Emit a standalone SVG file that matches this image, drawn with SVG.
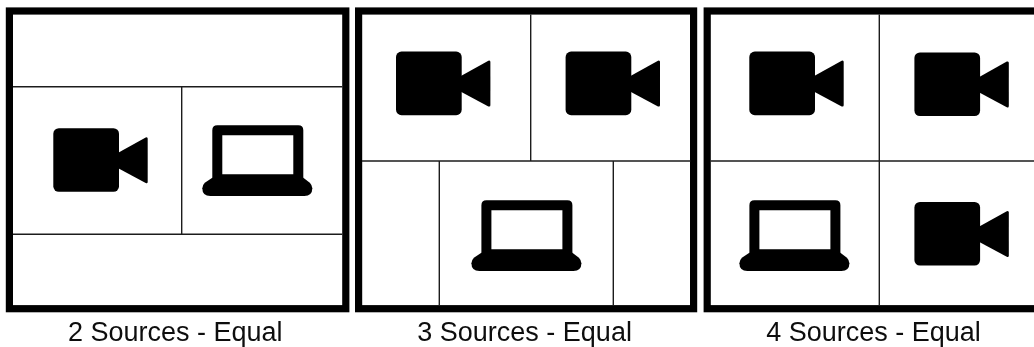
<svg xmlns="http://www.w3.org/2000/svg" width="1034" height="347" viewBox="0 0 1034 347">
<style>
.frame{fill:#fff;stroke:#000;stroke-width:7.2}
.div{stroke:#1c1c1c;stroke-width:1.4;fill:none}
.lbl{font-family:"Liberation Sans",Arial,Helvetica,sans-serif;font-size:27px;fill:#111;text-anchor:middle;filter:url(#softer)}
.soft{filter:url(#soft)}
</style>
<defs>
<filter id="soft" x="-10%" y="-10%" width="120%" height="120%"><feGaussianBlur stdDeviation="0.55"/></filter>
<filter id="softer" x="-5%" y="-10%" width="110%" height="120%"><feGaussianBlur stdDeviation="0.35"/></filter>
<g id="cam">
<rect x="0" y="0" width="65.7" height="63.6" rx="5.5" fill="#000"/>
<path d="M64 25 L92.4 9.2 Q94.4 8.4 94.4 10.5 L94.4 53.5 Q94.4 55.6 92.4 54.8 L64 39.6 Z" fill="#000"/>
</g>
<g id="lap">
<path fill-rule="evenodd" fill="#000" d="M15 0 H96 Q101 0 101 5 V53 H10 V5 Q10 0 15 0 Z M20 10 V49 H91 V10 Z"/>
<path fill="#000" d="M10 52.4 H101 L107.5 57.5 Q110 60 110 63 Q110 70.7 102 70.7 H8 Q0 70.7 0 63 Q0 60 2.5 57.5 Z"/>
</g>
</defs>
<rect width="1034" height="347" fill="#fff"/>

<g id="panel-2-sources">
<rect class="frame" x="9.4" y="11" width="336.4" height="297.7"/>
<g class="div"><path d="M13 86.7H342.3M13 234.3H342.3M181.7 86.7V234.3"/></g>
<g id="p2-camera" class="soft"><use href="#cam" x="53.3" y="128.2"/></g>
<g id="p2-laptop" class="soft"><use href="#lap" x="202.3" y="125.3"/></g>
<text class="lbl" x="175.2" y="341">2 Sources - Equal</text>
</g>

<g id="panel-3-sources">
<rect class="frame" x="358.6" y="11" width="335" height="297.7"/>
<g class="div"><path d="M362 161H690.5M530.7 14.6V161M439.3 161V305M613.3 161V305"/></g>
<g id="p3-camera-a" class="soft"><use href="#cam" x="396" y="51.6"/></g>
<g id="p3-camera-b" class="soft"><use href="#cam" x="565.6" y="51.6"/></g>
<g id="p3-laptop" class="soft"><use href="#lap" x="471.4" y="200.3"/></g>
<text class="lbl" x="524.6" y="341">3 Sources - Equal</text>
</g>

<g id="panel-4-sources">
<rect class="frame" x="707.2" y="11" width="340" height="297.7"/>
<g class="div"><path d="M710.7 161H1034M879.3 14.6V305"/></g>
<g id="p4-camera-a" class="soft"><use href="#cam" x="749.3" y="51.6"/></g>
<g id="p4-camera-b" class="soft"><use href="#cam" x="914.4" y="52.4"/></g>
<g id="p4-laptop" class="soft"><use href="#lap" x="739.4" y="200.3"/></g>
<g id="p4-camera-c" class="soft"><use href="#cam" x="914.4" y="202"/></g>
<text class="lbl" x="873.5" y="341">4 Sources - Equal</text>
</g>
</svg>
